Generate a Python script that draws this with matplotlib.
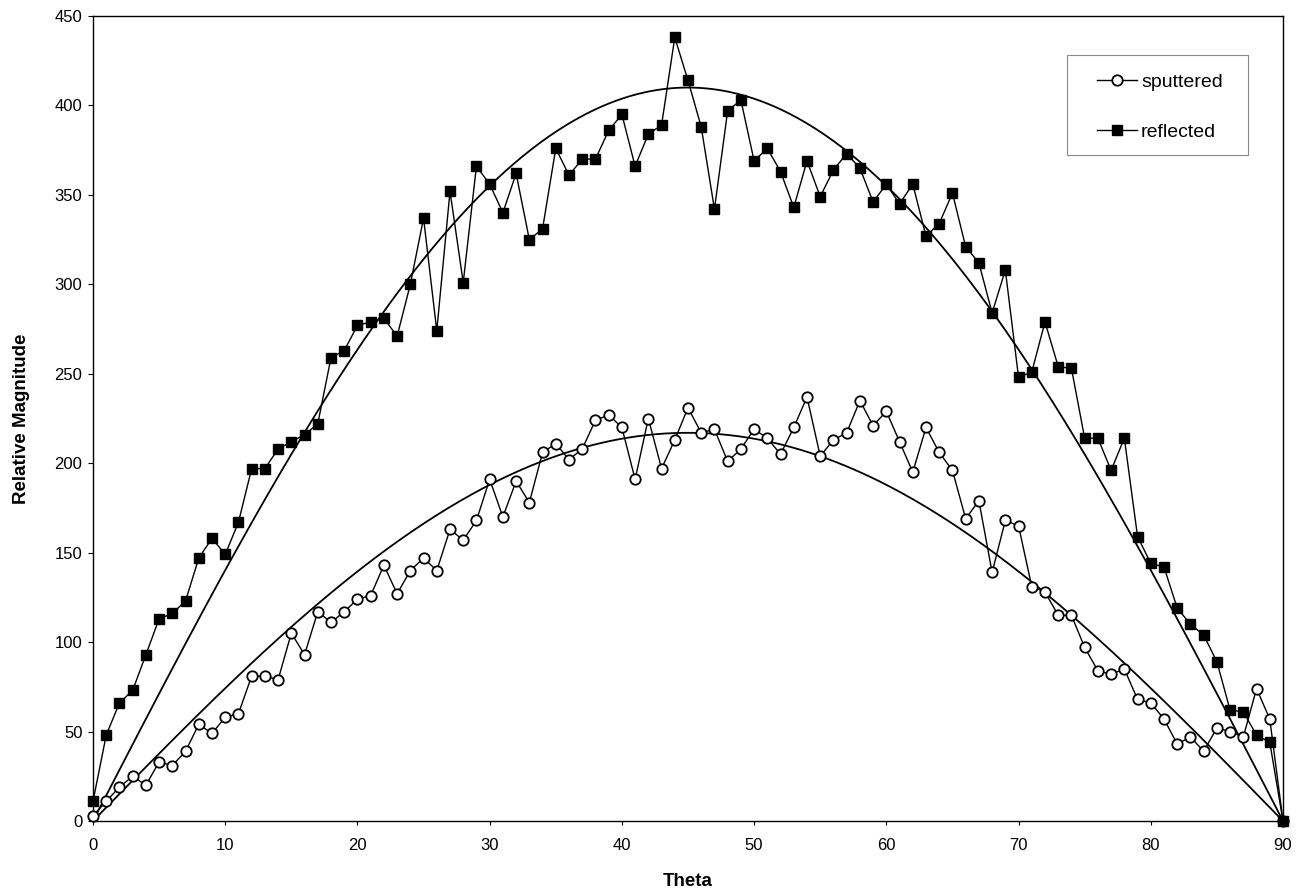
import numpy as np
import matplotlib
matplotlib.use('Agg')
import matplotlib.pyplot as plt
from matplotlib.patches import Rectangle

# angle steps 0..90
theta = np.arange(0, 91)

sputtered = [3, 11, 19, 25, 20, 33, 31, 39, 54, 49,
             58, 60, 81, 81, 79, 105, 93, 117, 111, 117,
             124, 126, 143, 127, 140, 147, 140, 163, 157, 168,
             191, 170, 190, 178, 206, 211, 202, 208, 224, 227,
             220, 191, 225, 197, 213, 231, 217, 219, 201, 208,
             219, 214, 205, 220, 237, 204, 213, 217, 235, 221,
             229, 212, 195, 220, 206, 196, 169, 179, 139, 168,
             165, 131, 128, 115, 115, 97, 84, 82, 85, 68,
             66, 57, 43, 47, 39, 52, 50, 47, 74, 57,
             0]

reflected = [11, 48, 66, 73, 93, 113, 116, 123, 147, 158,
             149, 167, 197, 197, 208, 212, 216, 222, 259, 263,
             277, 279, 281, 271, 300, 337, 274, 352, 301, 366,
             356, 340, 362, 325, 331, 376, 361, 370, 370, 386,
             395, 366, 384, 389, 438, 414, 388, 342, 397, 403,
             369, 376, 363, 343, 369, 349, 364, 373, 365, 346,
             356, 345, 356, 327, 334, 351, 321, 312, 284, 308,
             248, 251, 279, 254, 253, 214, 214, 196, 214, 159,
             144, 142, 119, 110, 104, 89, 62, 61, 48, 44,
             0]

# peak heights of the fitted sin(2*theta) curves
fit_peak_sputtered = 217
fit_peak_reflected = 410

plt.rcParams['font.family'] = ['Liberation Sans', 'DejaVu Sans']

fig = plt.figure(figsize=(12.99, 8.92), dpi=100)
ax = fig.add_axes([93/1299, 71/892, 1190/1299, 805/892])

t_fine = np.linspace(0, 90, 400)
shape = np.sin(np.radians(2 * t_fine))
ax.plot(t_fine, fit_peak_sputtered * shape, color='black', lw=1.3, zorder=2)
ax.plot(t_fine, fit_peak_reflected * shape, color='black', lw=1.3, zorder=2)

ax.plot(theta, sputtered, color='black', lw=1.0, marker='o', markersize=7.5,
        markerfacecolor='white', markeredgecolor='black', markeredgewidth=1.3,
        label='sputtered', clip_on=False, zorder=3)
ax.plot(theta, reflected, color='black', lw=1.0, marker='s', markersize=7.2,
        markerfacecolor='black', markeredgecolor='black',
        label='reflected', clip_on=False, zorder=4)

ax.set_xlim(0, 90)
ax.set_ylim(0, 450)
ax.set_xticks(range(0, 91, 10))
ax.set_yticks(range(0, 451, 50))
ax.tick_params(axis='x', direction='out', length=3, pad=9, labelsize=12)
ax.tick_params(axis='y', direction='out', length=3.6, pad=4, labelsize=12)
for s in ax.spines.values():
    s.set_linewidth(1.0)
    s.set_color('black')

ax.set_xlabel('Theta', fontsize=13.5, fontweight='bold', labelpad=15)
ax.set_ylabel('Relative Magnitude', fontsize=13.5, fontweight='bold', labelpad=18)

# legend box drawn separately so the margins match the original
ax.add_patch(Rectangle((0.8185, 0.8273), 0.1521, 0.1242, transform=ax.transAxes,
                       facecolor='white', edgecolor='#888888', lw=0.8, zorder=5))
leg = ax.legend(loc='upper left', bbox_to_anchor=(0.8437, 0.9292), fontsize=14,
                frameon=False, borderpad=0, borderaxespad=0,
                labelspacing=1.68, handlelength=2.06, handletextpad=0.2)
leg.set_zorder(6)

fig.savefig('out.png', dpi=100)
